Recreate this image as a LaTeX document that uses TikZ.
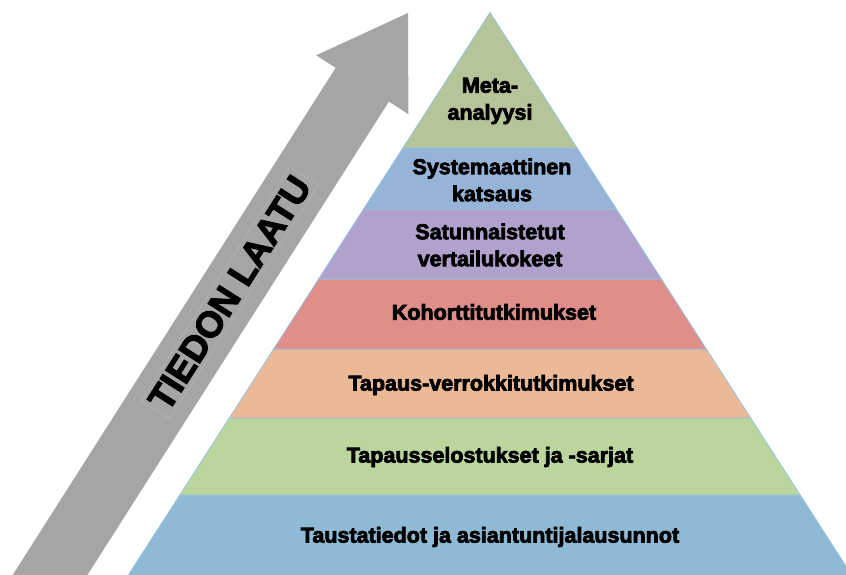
\documentclass[tikz,border=0pt]{standalone}
\usepackage{fontspec}
\setmainfont{Liberation Sans}
\newfontfamily\heavyfont[FakeBold=3.5]{Liberation Sans Bold}
\newfontfamily\arrowfont[FakeBold=3]{Liberation Sans Bold}
\definecolor{lmeta}{RGB}{182,196,154}
\definecolor{lsys}{RGB}{150,180,215}
\definecolor{lsat}{RGB}{176,161,205}
\definecolor{lkoh}{RGB}{224,142,138}
\definecolor{ltap}{RGB}{236,185,150}
\definecolor{lsel}{RGB}{187,214,157}
\definecolor{ltau}{RGB}{142,186,214}
\definecolor{edgeblue}{RGB}{150,196,226}
\definecolor{arrowgray}{RGB}{165,165,165}
\definecolor{boxgray}{RGB}{182,182,182}
\begin{document}
\begin{tikzpicture}[x=1pt,y=-1pt,
  layer/.style={draw=edgeblue, line width=0.8pt, line join=miter},
  lbl/.style={font=\heavyfont\fontsize{21.5}{27}\selectfont, align=center, text=black, inner sep=0pt},
  arrowlbl/.style={font=\arrowfont\fontsize{36.5}{40}\selectfont, text=black, inner sep=4pt, draw=boxgray, line width=0.5pt}]
\useasboundingbox (0,0) rectangle (846,574);
\clip (0,0) rectangle (846,574);
\fill[white] (0,0) rectangle (846,574);
% arrow
\fill[arrowgray] (408,13) -- (408.4,114.1) -- (388.9,101.6) -- (63.9,611.9)
  -- (10.7,578.1) -- (335.7,67.8) -- (316.2,55.3) -- cycle;
\node[arrowlbl, rotate=57.5] (quality) at (229.6,293) {TIEDON LAATU};
% pyramid layers
\filldraw[layer, fill=ltau] (179.8,495) -- (800.2,495) -- (853.6,578) -- (126.4,578) -- cycle;
\filldraw[layer, fill=lsel] (229.3,418) -- (750.7,418) -- (800.2,495) -- (179.8,495) -- cycle;
\filldraw[layer, fill=ltap] (273.6,349) -- (706.4,349) -- (750.7,418) -- (229.3,418) -- cycle;
\filldraw[layer, fill=lkoh] (318.6,279) -- (661.4,279) -- (706.4,349) -- (273.6,349) -- cycle;
\filldraw[layer, fill=lsat] (363.6,209) -- (616.4,209) -- (661.4,279) -- (318.6,279) -- cycle;
\filldraw[layer, fill=lsys] (402.9,148) -- (577.1,148) -- (616.4,209) -- (363.6,209) -- cycle;
\filldraw[layer, fill=lmeta] (490,12.5) -- (577.1,148) -- (402.9,148) -- cycle;
% labels
\node[lbl] (meta) at (490,101) {Meta-\\analyysi};
\node[lbl] (sys) at (492,180) {Systemaattinen\\katsaus};
\node[lbl] (sat) at (490,245) {Satunnaistetut\\vertailukokeet};
\node[lbl] (koh) at (494,312) {Kohorttitutkimukset};
\node[lbl] (tap) at (491,385) {Tapaus-verrokkitutkimukset};
\node[lbl] (sel) at (490,457) {Tapausselostukset ja -sarjat};
\node[lbl] (tau) at (490,537) {Taustatiedot ja asiantuntijalausunnot};
\end{tikzpicture}
\end{document}
